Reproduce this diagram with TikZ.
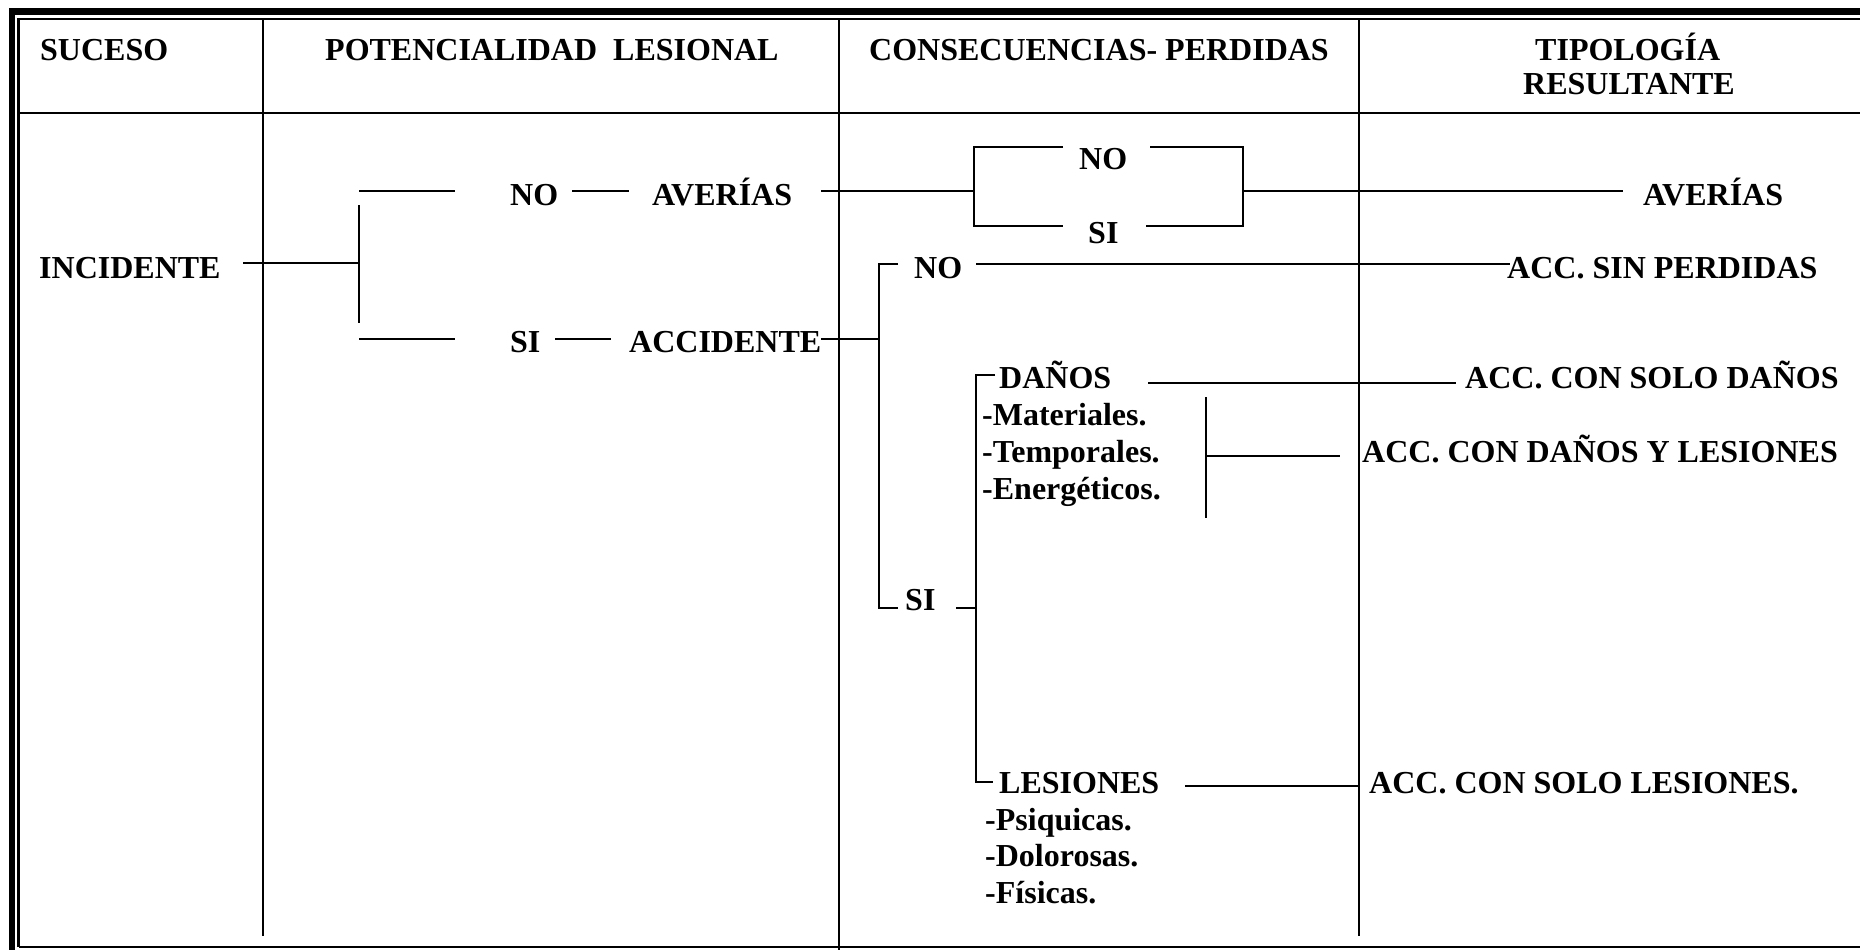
\documentclass[tikz,border=0pt]{standalone}
\usepackage{fontspec}
\setmainfont{Liberation Serif}
\begin{document}
\begin{tikzpicture}[x=1pt,y=-1pt,
  lbl/.style={anchor=base west,inner sep=0pt,font=\fontsize{32}{37}\selectfont\bfseries},
  ln/.style={line width=2.2pt},
  colline/.style={line width=2.4pt},
  frameout/.style={line width=6.5pt},
  framein/.style={line width=2.6pt}]
\useasboundingbox (0,0) rectangle (1860,950);
\clip (0,0) rectangle (1860,950);
\fill[white] (0,0) rectangle (1860,950);
% frame
\draw[frameout] (12,960) -- (12,11.5) -- (1870,11.5);
\draw[framein] (18.5,947) -- (18.5,19) -- (1870,19);
\draw[framein] (18.5,947) -- (1870,947);
\draw[framein] (18.5,113) -- (1870,113);
% column lines
\draw[colline] (263,19) -- (263,936);
\draw[colline] (839,19) -- (839,950);
\draw[colline] (1359,19) -- (1359,936);
% headers
\node[lbl] (hsuc) at (40,61) {SUCESO};
\node[lbl] (hpot) at (325,61) {POTENCIALIDAD\ \ LESIONAL};
\node[lbl] (hcon) at (869,61) {CONSECUENCIAS- PERDIDAS};
\node[lbl] (htip) at (1535,60) {TIPOLOGÍA};
\node[lbl] (hres) at (1523,95) {RESULTANTE};
% text nodes
\node[lbl] (inc) at (39,278) {INCIDENTE};
\node[lbl] (no1) at (510,205) {NO};
\node[lbl] (ave1) at (652,205) {AVERÍAS};
\node[lbl] (si1) at (510,352) {SI};
\node[lbl] (acc) at (629,352) {ACCIDENTE};
\node[lbl] (bno) at (1079,169) {NO};
\node[lbl] (bsi) at (1088,243) {SI};
\node[lbl] (ave2) at (1643,205) {AVERÍAS};
\node[lbl] (no2) at (914,278) {NO};
\node[lbl] (rsin) at (1507,278) {ACC. SIN PERDIDAS};
\node[lbl] (dan) at (999,388) {DAÑOS};
\node[lbl] (rsdan) at (1465,388) {ACC. CON SOLO DAÑOS};
\node[lbl] (mat) at (982,425) {-Materiales.};
\node[lbl] (tem) at (982,462) {-Temporales.};
\node[lbl] (ene) at (982,499) {-Energéticos.};
\node[lbl] (rdyl) at (1362,462) {ACC. CON DAÑOS Y LESIONES};
\node[lbl] (si2) at (905,610) {SI};
\node[lbl] (les) at (999,793) {LESIONES};
\node[lbl] (rsles) at (1369,793) {ACC. CON SOLO LESIONES.};
\node[lbl] (psi) at (985,830) {-Psiquicas.};
\node[lbl] (dol) at (985,866) {-Dolorosas.};
\node[lbl] (fis) at (985,903) {-Físicas.};
% junction coordinates
\coordinate (a0) at (243,263);
\coordinate (a1) at (359,263);
\coordinate (b1) at (359,205);
\coordinate (b2) at (359,323);
\coordinate (c1) at (359,191);
\coordinate (c2) at (455,191);
\coordinate (d1) at (359,339);
\coordinate (d2) at (455,339);
\coordinate (e1) at (572,191);
\coordinate (e2) at (629,191);
\coordinate (f1) at (555,339);
\coordinate (f2) at (611,339);
\coordinate (g1) at (821,191);
\coordinate (g2) at (974,191);
\coordinate (bx1) at (1063,147);
\coordinate (bx2) at (974,147);
\coordinate (bx3) at (974,226);
\coordinate (bx4) at (1063,226);
\coordinate (bx5) at (1150,147);
\coordinate (bx6) at (1243,147);
\coordinate (bx7) at (1243,226);
\coordinate (bx8) at (1146,226);
\coordinate (h1) at (1243,191);
\coordinate (h2) at (1623,191);
\coordinate (i1) at (821,339);
\coordinate (i2) at (879,339);
\coordinate (j1) at (898,264);
\coordinate (j2) at (879,264);
\coordinate (j3) at (879,608);
\coordinate (j4) at (898,608);
\coordinate (k1) at (976,264);
\coordinate (k2) at (1510,264);
\coordinate (l1) at (956,608);
\coordinate (l2) at (976,608);
\coordinate (m1) at (995,375);
\coordinate (m2) at (976,375);
\coordinate (m3) at (976,782);
\coordinate (m4) at (993,782);
\coordinate (n1) at (1148,383);
\coordinate (n2) at (1456,383);
\coordinate (o1) at (1206,397);
\coordinate (o2) at (1206,518);
\coordinate (o3) at (1206,456);
\coordinate (o4) at (1340,456);
\coordinate (p1) at (1185,786);
\coordinate (p2) at (1359,786);
% connectors
\draw[ln] (a0) -- (a1);
\draw[ln] (b1) -- (b2);
\draw[ln] (c1) -- (c2);
\draw[ln] (d1) -- (d2);
\draw[ln] (e1) -- (e2);
\draw[ln] (f1) -- (f2);
\draw[ln] (g1) -- (g2);
\draw[ln] (bx1) -- (bx2) -- (bx3) -- (bx4);
\draw[ln] (bx5) -- (bx6) -- (bx7) -- (bx8);
\draw[ln] (h1) -- (h2);
\draw[ln] (i1) -- (i2);
\draw[ln] (j1) -- (j2) -- (j3) -- (j4);
\draw[ln] (k1) -- (k2);
\draw[ln] (l1) -- (l2);
\draw[ln] (m1) -- (m2) -- (m3) -- (m4);
\draw[ln] (n1) -- (n2);
\draw[ln] (o1) -- (o2);
\draw[ln] (o3) -- (o4);
\draw[ln] (p1) -- (p2);
\end{tikzpicture}
\end{document}
